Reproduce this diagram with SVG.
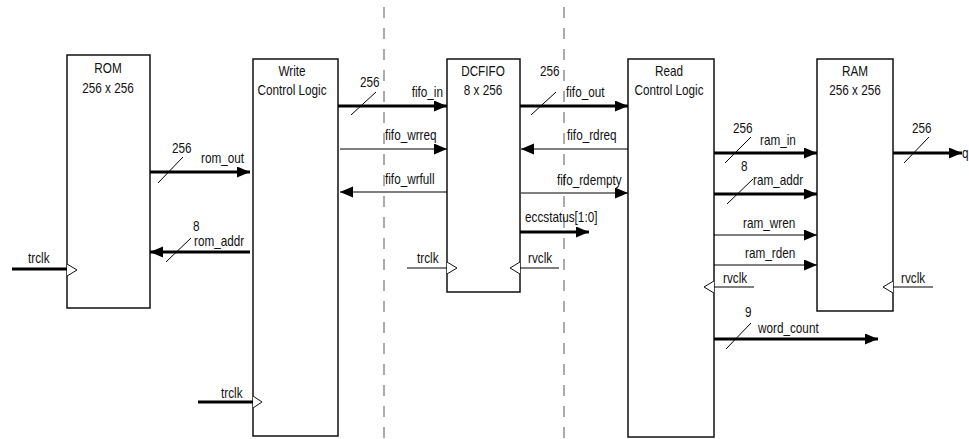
<svg xmlns="http://www.w3.org/2000/svg" width="969" height="439" viewBox="0 0 969 439">
<style>
text{font-family:"Liberation Sans",Arial,sans-serif;font-size:14px;fill:#111}
.c{text-anchor:middle}
.e{text-anchor:end}
.box{fill:#fff;stroke:#111;stroke-width:1.5}
.clk{fill:#fff;stroke:#111;stroke-width:1}
.thick{stroke:#000;stroke-width:3;fill:none}
.thin{stroke:#000;stroke-width:1.2;fill:none}
.slash{stroke:#000;stroke-width:1;fill:none}
.dash{stroke:#888;stroke-width:1.4;stroke-dasharray:11 10;fill:none}
</style>
<defs>
<marker id="ah" markerUnits="userSpaceOnUse" markerWidth="14" markerHeight="12" refX="13" refY="5.5" orient="auto">
<path d="M0,0 L13,5.5 L0,11 z" fill="#000"/>
</marker>
</defs>
<rect width="969" height="439" fill="#fff"/>
<g id="dividers">
<line class="dash" x1="384" y1="7" x2="384" y2="439"/>
<line class="dash" x1="564" y1="7" x2="564" y2="439"/>
</g>
<g id="rom">
<rect class="box" x="67" y="55" width="83" height="253"/>
<text class="c" transform="translate(108,73) scale(.84,1)">ROM</text>
<text class="c" transform="translate(108,93) scale(.84,1)">256 x 256</text>
<path class="clk" d="M67,264 L77,270 L67,276"/>
</g>
<g id="write-control">
<rect class="box" x="253" y="59" width="85" height="377"/>
<text class="c" transform="translate(292,76) scale(.84,1)">Write</text>
<text class="c" transform="translate(292,95) scale(.84,1)">Control Logic</text>
<path class="clk" d="M253,396 L262,402 L253,408"/>
</g>
<g id="dcfifo">
<rect class="box" x="447" y="59" width="73" height="233"/>
<text class="c" transform="translate(483,76) scale(.84,1)">DCFIFO</text>
<text class="c" transform="translate(483,95) scale(.84,1)">8 x 256</text>
<path class="clk" d="M447,262 L457,268 L447,274"/>
<path class="clk" d="M520,262 L510,268 L520,274"/>
</g>
<g id="read-control">
<rect class="box" x="628" y="59" width="86" height="378"/>
<text class="c" transform="translate(669,76) scale(.84,1)">Read</text>
<text class="c" transform="translate(669,95) scale(.84,1)">Control Logic</text>
<path class="clk" d="M714,281 L704,287 L714,293"/>
</g>
<g id="ram">
<rect class="box" x="817" y="59" width="76" height="252"/>
<text class="c" transform="translate(855,76) scale(.84,1)">RAM</text>
<text class="c" transform="translate(855,95) scale(.84,1)">256 x 256</text>
<path class="clk" d="M893,281 L883,287 L893,293"/>
</g>
<g id="connectors">
<line class="thick" x1="12" y1="269" x2="67" y2="269"/>
<text transform="translate(28,263) scale(.84,1)">trclk</text>
<line class="thick" x1="150" y1="172" x2="250" y2="172" marker-end="url(#ah)"/>
<line class="slash" x1="158" y1="183" x2="183" y2="157"/>
<text transform="translate(172,153) scale(.84,1)">256</text>
<text transform="translate(201,163) scale(.84,1)">rom_out</text>
<line class="thick" x1="250" y1="252" x2="150" y2="252" marker-end="url(#ah)"/>
<line class="slash" x1="166" y1="262" x2="191" y2="238"/>
<text transform="translate(193,231) scale(.84,1)">8</text>
<text transform="translate(194,246) scale(.84,1)">rom_addr</text>
<line class="thick" x1="198" y1="402" x2="253" y2="402"/>
<text transform="translate(221,398) scale(.84,1)">trclk</text>
<line class="thick" x1="338" y1="106" x2="447" y2="106" marker-end="url(#ah)"/>
<line class="slash" x1="351" y1="115" x2="376" y2="92"/>
<text transform="translate(360,87) scale(.84,1)">256</text>
<text class="e" transform="translate(443,97) scale(.84,1)">fifo_in</text>
<line class="thin" x1="340" y1="149" x2="447" y2="149" marker-end="url(#ah)"/>
<text transform="translate(385,140) scale(.84,1)">fifo_wrreq</text>
<line class="thin" x1="447" y1="192" x2="340" y2="192" marker-end="url(#ah)"/>
<text transform="translate(385,184) scale(.84,1)">fifo_wrfull</text>
<line class="thin" x1="407" y1="268" x2="447" y2="268"/>
<text transform="translate(417,263) scale(.84,1)">trclk</text>
<line class="thick" x1="520" y1="106" x2="628" y2="106" marker-end="url(#ah)"/>
<line class="slash" x1="531" y1="115" x2="556" y2="92"/>
<text transform="translate(540,76) scale(.84,1)">256</text>
<text transform="translate(566,97) scale(.84,1)">fifo_out</text>
<line class="thin" x1="628" y1="149" x2="521" y2="149" marker-end="url(#ah)"/>
<text transform="translate(567,140) scale(.84,1)">fifo_rdreq</text>
<line class="thin" x1="521" y1="193" x2="628" y2="193" marker-end="url(#ah)"/>
<text transform="translate(557,185) scale(.84,1)">fifo_rdempty</text>
<line class="thick" x1="520" y1="232" x2="589" y2="232" marker-end="url(#ah)"/>
<text transform="translate(525,222) scale(.84,1)">eccstatus[1:0]</text>
<line class="thin" x1="520" y1="268" x2="559" y2="268"/>
<text transform="translate(528,263) scale(.84,1)">rvclk</text>
<line class="thick" x1="714" y1="153" x2="817" y2="153" marker-end="url(#ah)"/>
<line class="slash" x1="725" y1="163" x2="751" y2="137"/>
<text transform="translate(733,133) scale(.84,1)">256</text>
<text transform="translate(760,145) scale(.84,1)">ram_in</text>
<line class="thick" x1="714" y1="194" x2="817" y2="194" marker-end="url(#ah)"/>
<line class="slash" x1="727" y1="204" x2="753" y2="179"/>
<text transform="translate(741,171) scale(.84,1)">8</text>
<text transform="translate(753,185) scale(.84,1)">ram_addr</text>
<line class="thin" x1="714" y1="235" x2="817" y2="235" marker-end="url(#ah)"/>
<text transform="translate(743,228) scale(.84,1)">ram_wren</text>
<line class="thin" x1="714" y1="265" x2="817" y2="265" marker-end="url(#ah)"/>
<text transform="translate(745,258) scale(.84,1)">ram_rden</text>
<line class="thin" x1="714" y1="287" x2="754" y2="287"/>
<text transform="translate(723,283) scale(.84,1)">rvclk</text>
<line class="thick" x1="714" y1="339" x2="878" y2="339" marker-end="url(#ah)"/>
<line class="slash" x1="726" y1="349" x2="751" y2="323"/>
<text transform="translate(745,317) scale(.84,1)">9</text>
<text transform="translate(758,333) scale(.84,1)">word_count</text>
<line class="thick" x1="893" y1="153" x2="962" y2="153" marker-end="url(#ah)"/>
<line class="slash" x1="904" y1="163" x2="929" y2="137"/>
<text transform="translate(912,133) scale(.84,1)">256</text>
<text transform="translate(962,158) scale(.84,1)">q</text>
<line class="thin" x1="893" y1="287" x2="933" y2="287"/>
<text transform="translate(901,283) scale(.84,1)">rvclk</text>
</g>
</svg>
